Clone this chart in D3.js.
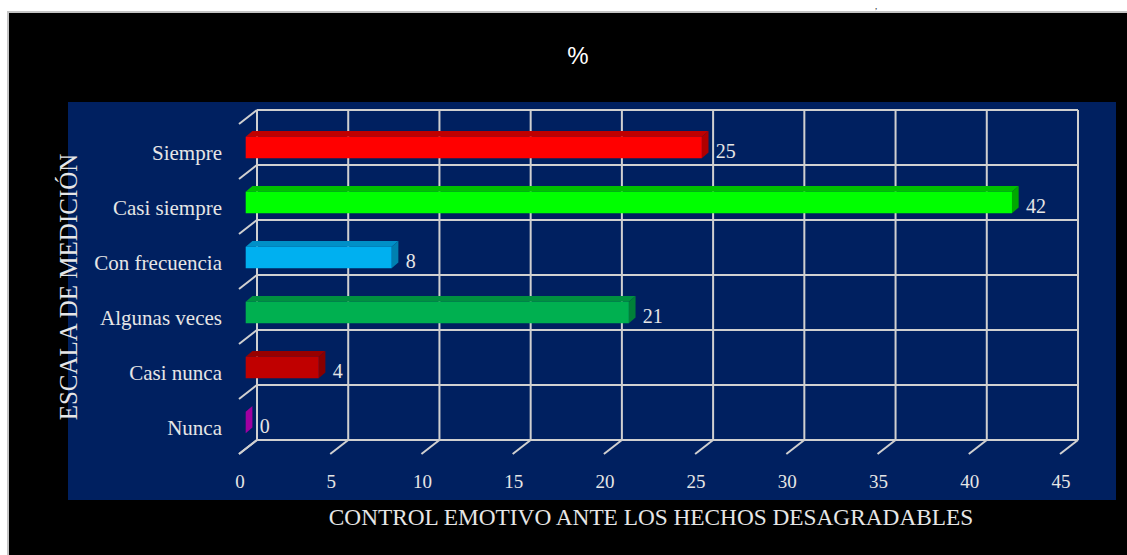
<!DOCTYPE html>
<html>
<head>
<meta charset="utf-8">
<script src="https://cdn.jsdelivr.net/npm/d3@7"></script>
<style>
  html, body { margin: 0; padding: 0; background: #ffffff; }
  svg { display: block; }
</style>
</head>
<body>
<svg id="chart" width="1127" height="555"></svg>
<script>
// ---- data ----
const categories = ["Siempre", "Casi siempre", "Con frecuencia", "Algunas veces", "Casi nunca", "Nunca"];
const values = [25, 42, 8, 21, 4, 0];
const frontColors = ["#ff0000", "#00ff00", "#00b0f0", "#00b050", "#c00000", "#cc00cc"];
const topColors   = ["#c00000", "#00c000", "#0090c8", "#009040", "#980000", "#a000a0"];
const sideColors  = ["#b00000", "#00a800", "#0080b0", "#008038", "#880000", "#a000a0"];
const xTicks = [0, 5, 10, 15, 20, 25, 30, 35, 40, 45];
const chartTitle = "%";
const xTitle = "CONTROL EMOTIVO ANTE LOS HECHOS DESAGRADABLES";
const yTitle = "ESCALA DE MEDICIÓN";

// ---- layout ----
const svg = d3.select("#chart");
const serif = "'Liberation Serif', 'Times New Roman', serif";
const textCol = "#e6e6e6";
const gridCol = "#d0d0d0";

// outer black frame
svg.append("rect").attr("x", 8).attr("y", 12).attr("width", 1140).attr("height", 560)
  .attr("fill", "#000").attr("stroke", "#c4c4c4").attr("stroke-width", 2);
// navy plot area
svg.append("rect").attr("x", 68).attr("y", 102).attr("width", 1116 - 68).attr("height", 500 - 102)
  .attr("fill", "#002060");

// stray glyph at the top (cropped text above the frame)
svg.append("text").attr("x", 875).attr("y", 9).attr("font-family", serif).attr("font-size", 9)
  .attr("fill", "#222").text(",");

const x = d3.scaleLinear().domain([0, 45]).range([257, 1078]);
const y = d3.scaleBand().domain(categories).range([110, 440]).padding(0);
const depth = [-18, 14];           // back wall -> front plane
const front = [-11.3, 9];          // bar front face offset from wall
const barDepth = [6.7, -5.7];      // bar thickness in depth
const barH = 21.5;

const g = svg.append("g");

// back wall grid: vertical lines
g.selectAll("line.vg").data(xTicks).join("line")
  .attr("x1", d => x(d)).attr("x2", d => x(d))
  .attr("y1", 110).attr("y2", 440)
  .attr("stroke", gridCol).attr("stroke-width", 2);
// horizontal lines
const hLines = categories.map(c => y(c)).concat([y.range()[1]]);
g.selectAll("line.hg").data(hLines).join("line")
  .attr("x1", x(0)).attr("x2", x(45))
  .attr("y1", d => d).attr("y2", d => d)
  .attr("stroke", gridCol).attr("stroke-width", 2);
// floor diagonals
g.selectAll("line.fd").data(xTicks).join("line")
  .attr("x1", d => x(d)).attr("y1", 440)
  .attr("x2", d => x(d) + depth[0]).attr("y2", 440 + depth[1])
  .attr("stroke", gridCol).attr("stroke-width", 2);
// left wall diagonals
g.selectAll("line.wd").data(hLines).join("line")
  .attr("x1", x(0)).attr("y1", d => d)
  .attr("x2", x(0) + depth[0]).attr("y2", d => d + depth[1])
  .attr("stroke", gridCol).attr("stroke-width", 2);

// bars
const bars = categories.map((c, i) => {
  const xl = x(0) + front[0];
  const xr = x(values[i]) + front[0];
  const yc = y(c) + y.bandwidth() / 2 + 10;
  return { c, v: values[i], i, xl, xr, yt: yc - barH / 2, yb: yc + barH / 2, yc };
});
const bg = svg.append("g");
bars.forEach(b => {
  const [dx, dy] = barDepth;
  // top face
  bg.append("polygon")
    .attr("points", [[b.xl, b.yt], [b.xr, b.yt], [b.xr + dx, b.yt + dy], [b.xl + dx, b.yt + dy]].join(" "))
    .attr("fill", topColors[b.i]);
  // side face
  bg.append("polygon")
    .attr("points", [[b.xr, b.yt], [b.xr + dx, b.yt + dy], [b.xr + dx, b.yb + dy], [b.xr, b.yb]].join(" "))
    .attr("fill", sideColors[b.i]);
  // front face
  if (b.xr > b.xl) {
    bg.append("rect").attr("x", b.xl).attr("y", b.yt).attr("width", b.xr - b.xl).attr("height", barH)
      .attr("fill", frontColors[b.i]);
  }
  // value label
  bg.append("text").attr("x", b.xr + 14).attr("y", b.yc + 10.5)
    .attr("font-family", serif).attr("font-size", 20).attr("fill", textCol).text(b.v);
});

// category labels
svg.selectAll("text.cat").data(categories).join("text")
  .attr("x", 222).attr("y", d => y(d) + 50)
  .attr("text-anchor", "end")
  .attr("font-family", serif).attr("font-size", 21).attr("fill", textCol)
  .text(d => d);

// x tick labels
svg.selectAll("text.xt").data(xTicks).join("text")
  .attr("x", d => x(d) + depth[0] + 1).attr("y", 488)
  .attr("text-anchor", "middle")
  .attr("font-family", serif).attr("font-size", 19).attr("fill", textCol)
  .text(d => d);

// titles
svg.append("text").attr("x", 578).attr("y", 64).attr("text-anchor", "middle")
  .attr("font-family", "'Liberation Sans', Arial, sans-serif").attr("font-size", 24)
  .attr("fill", "#fff").text(chartTitle);
svg.append("text").attr("x", 651).attr("y", 525).attr("text-anchor", "middle")
  .attr("font-family", serif).attr("font-size", 23.3).attr("fill", textCol).text(xTitle);
svg.append("text").attr("transform", "translate(77,287) rotate(-90)").attr("text-anchor", "middle")
  .attr("font-family", serif).attr("font-size", 25).attr("fill", textCol).text(yTitle);
</script>
</body>
</html>
